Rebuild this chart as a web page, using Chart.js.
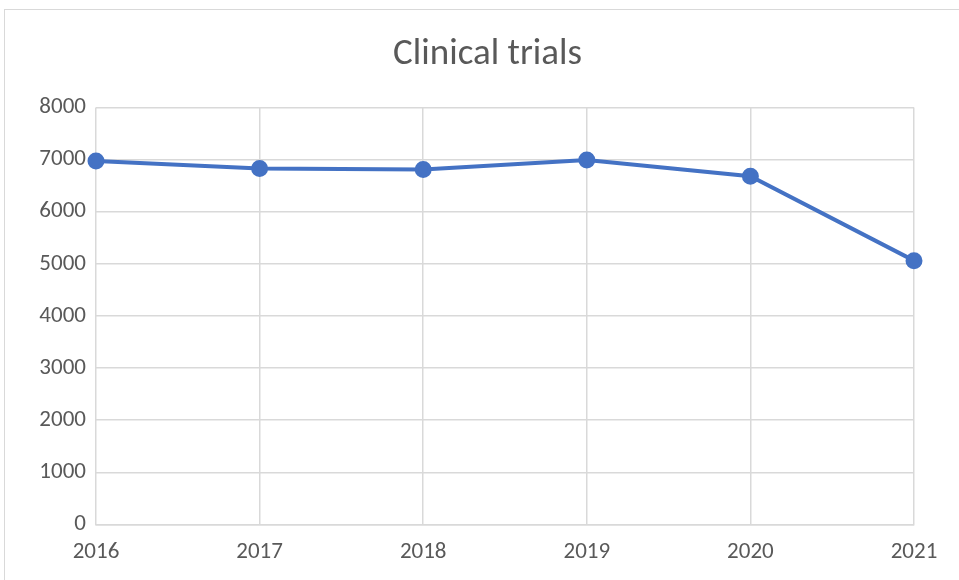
<!DOCTYPE html>
<html>
<head>
<meta charset="utf-8">
<script src="https://cdn.jsdelivr.net/npm/chart.js@4"></script>
<style>
  html, body { margin: 0; padding: 0; background: #fff; overflow: hidden; }
  .frame { position: absolute; left: 4px; top: 9px; width: 970px; height: 590px; border: 1px solid #d9d9d9; }
  .wrap { position: absolute; left: 0; top: 0; width: 959px; height: 580px; }
</style>
</head>
<body>
<div class="frame"></div>
<div class="wrap"><canvas id="trialsChart"></canvas></div>
<script>
// ===== Data =====
const years = ["2016", "2017", "2018", "2019", "2020", "2021"];
const trials = [6970, 6830, 6810, 6990, 6680, 5060];
const yTicks = [0, 1000, 2000, 3000, 4000, 5000, 6000, 7000, 8000];

const FONT = "Carlito, 'Liberation Sans Narrow', 'Open Sans', sans-serif";
const TEXT = "#595959";
const GRID = "#d9d9d9";
const BLUE = "#4472c4";

// title is centred on the whole (wider) frame in the original, not on the canvas
const centerTitle = {
  id: "centerTitle",
  afterLayout(chart) {
    if (chart.titleBlock) {
      chart.titleBlock.left = 0;
      chart.titleBlock.right = 975;
    }
  }
};

// ===== Chart =====
const ctx = document.getElementById("trialsChart").getContext("2d");
new Chart(ctx, {
  type: "line",
  data: {
    labels: years,
    datasets: [{
      label: "Clinical trials",
      data: trials,
      borderColor: BLUE,
      backgroundColor: BLUE,
      borderWidth: 4,
      pointRadius: 6.5,
      pointHoverRadius: 6.5,
      pointBackgroundColor: BLUE,
      pointBorderColor: BLUE,
      tension: 0,
      fill: false
    }]
  },
  options: {
    responsive: true,
    maintainAspectRatio: false,
    animation: false,
    layout: { padding: { top: 0, right: 45, bottom: 0, left: 0 } },
    plugins: {
      legend: { display: false },
      tooltip: { enabled: false },
      title: {
        display: true,
        text: "Clinical trials",
        color: TEXT,
        font: { family: FONT, size: 37, weight: "normal" },
        padding: { top: 33, bottom: 30 }
      }
    },
    scales: {
      x: {
        offset: false,
        grid: { color: GRID, lineWidth: 1.5, drawTicks: false },
        border: { color: GRID, width: 1.5 },
        ticks: {
          color: TEXT,
          padding: 14,
          maxRotation: 0,
          font: { family: FONT, size: 23 }
        }
      },
      y: {
        min: 0,
        max: 8000,
        afterFit: (scale) => { scale.width = 96; },
        afterBuildTicks: (scale) => { scale.ticks = yTicks.map(v => ({ value: v })); },
        grid: { color: GRID, lineWidth: 1.5, drawTicks: false },
        border: { display: false },
        ticks: {
          color: TEXT,
          padding: 10,
          font: { family: FONT, size: 23 },
          callback: (v) => String(v)
        }
      }
    }
  },
  plugins: [centerTitle]
});
</script>
</body>
</html>
